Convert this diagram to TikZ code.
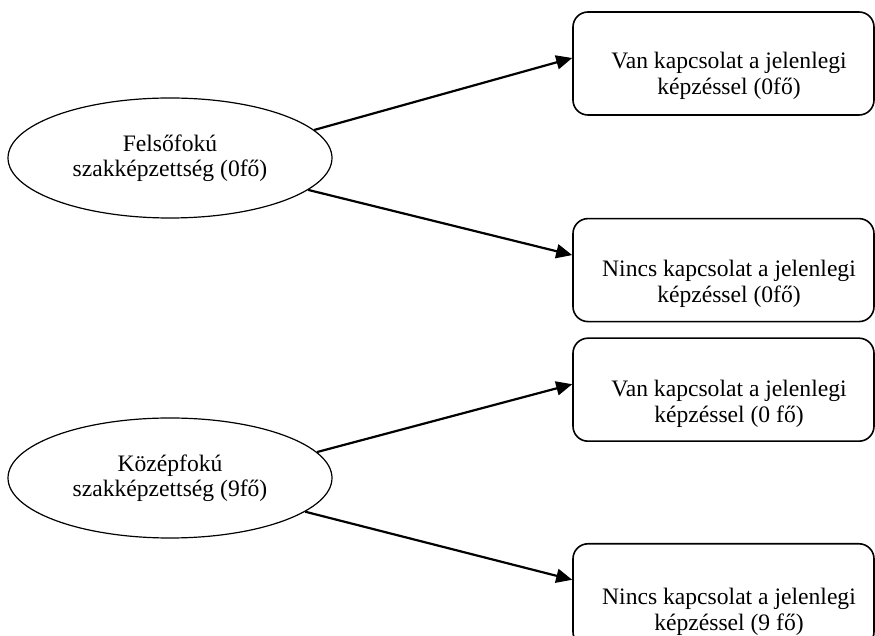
\documentclass[tikz,border=0pt]{standalone}
\usepackage{fontspec}
\setmainfont{Liberation Serif}
\usepackage{tikz}
\usetikzlibrary{shapes.geometric, arrows.meta, positioning}

\begin{document}
\begin{tikzpicture}[x=0.5pt, y=-0.5pt, node distance=0pt,
  level/.style={ellipse, draw=black, line width=0.6pt, minimum width=162pt, minimum height=60pt, inner sep=0pt, align=center, font=\fontsize{11.8}{12.5}\selectfont},
  outcome/.style={rectangle, rounded corners=7.5pt, draw=black, line width=0.8pt, minimum width=150.5pt, minimum height=51.5pt, inner sep=0pt},
  outtext/.style={align=center, inner sep=0pt, font=\fontsize{11.8}{12.8}\selectfont},
  arr/.style={-{Triangle[length=8pt, width=7pt]}, line width=1.1pt, draw=black}
]
\useasboundingbox (0,0) rectangle (875,636);
% levels
\node[level] (felso) at (170,158) {Felsőfokú\\szakképzettség (0fő)};
\node[level] (kozep) at (170,478) {Középfokú\\szakképzettség (9fő)};
% outcome boxes
\node[outcome] (b1) at (723.5,63.5) {};
\node[outcome, below=51pt of b1] (b2) {};
\node[outcome, below=7.5pt of b2] (b3) {};
\node[outcome, below=50.5pt of b3] (b4) {};
\node[outtext] (t1) at (729,76) {Van kapcsolat a jelenlegi\\képzéssel (0fő)};
\node[outtext] (t2) at (729,284) {Nincs kapcsolat a jelenlegi\\képzéssel (0fő)};
\node[outtext] (t3) at (729,404) {Van kapcsolat a jelenlegi\\képzéssel (0 fő)};
\node[outtext] (t4) at (729,612) {Nincs kapcsolat a jelenlegi\\képzéssel (9 fő)};
% arrows
\draw[arr] (felso.11) -- ([yshift=2.75pt]b1.west);
\draw[arr] (felso.-13) -- ([yshift=7.5pt]b2.west);
\draw[arr] (kozep.10) -- ([yshift=2.75pt]b3.west);
\draw[arr] (kozep.-14) -- ([yshift=7.75pt]b4.west);
\end{tikzpicture}
\end{document}
